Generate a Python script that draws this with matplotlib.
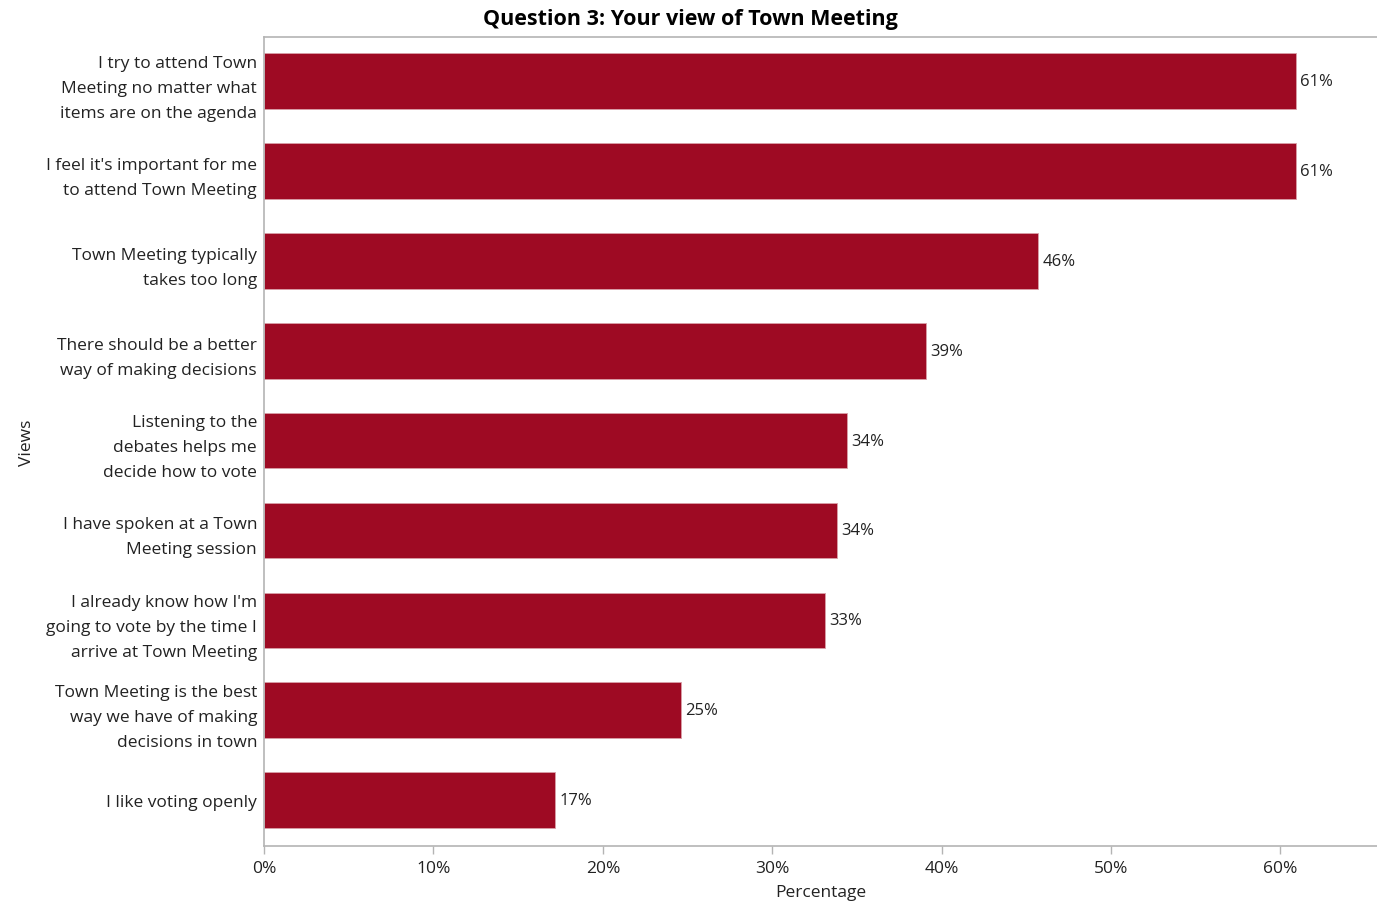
import matplotlib
matplotlib.use("Agg")
import matplotlib.pyplot as plt
from matplotlib.ticker import FuncFormatter

# Survey responses, top to bottom
views = [
    "I try to attend Town\nMeeting no matter what\nitems are on the agenda",
    "I feel it's important for me\nto attend Town Meeting",
    "Town Meeting typically\ntakes too long",
    "There should be a better\nway of making decisions",
    "Listening to the\ndebates helps me\ndecide how to vote",
    "I have spoken at a Town\nMeeting session",
    "I already know how I'm\ngoing to vote by the time I\narrive at Town Meeting",
    "Town Meeting is the best\nway we have of making\ndecisions in town",
    "I like voting openly",
]
percentages = [60.9, 60.9, 45.7, 39.1, 34.4, 33.8, 33.1, 24.6, 17.2]
x_ticks = [0, 10, 20, 30, 40, 50, 60]

BAR_COLOR = "#9e0a23"
GRID_GRAY = "#b4b4b4"
TEXT = "#222222"

plt.rcParams["font.family"] = ["Open Sans", "DejaVu Sans"]

fig = plt.figure(figsize=(13.77, 9.04), dpi=100)
ax = fig.add_axes([264 / 1377, 1 - 847 / 904, 1 - 264 / 1377, (847 - 38) / 904])

y = list(range(len(views)))
ax.barh(y, percentages, height=0.62, color=BAR_COLOR, edgecolor="#d9a0a8", linewidth=0.6)

# value labels just past the bar ends
for yi, v in zip(y, percentages):
    ax.annotate(f"{v:.0f}%", xy=(v, yi), xytext=(3, 0), textcoords="offset points",
                va="center", ha="left", fontsize=12, color=TEXT)

ax.set_ylim(len(views) - 0.49, -0.49)
ax.set_xlim(0, 65.7)
ax.set_yticks(y)
ax.set_yticklabels(views, fontsize=12.5, color=TEXT, linespacing=1.75)
ax.set_xticks(x_ticks)
ax.xaxis.set_major_formatter(FuncFormatter(lambda v, p: f"{v:.0f}%"))
ax.tick_params(axis="x", labelsize=12.5, colors=TEXT, length=6, width=1, color=GRID_GRAY, pad=4)
ax.tick_params(axis="y", length=0, pad=5)

for side in ["top", "left", "bottom"]:
    ax.spines[side].set_color(GRID_GRAY)
    ax.spines[side].set_linewidth(1.2)
ax.spines["right"].set_visible(False)

ax.set_xlabel("Percentage", fontsize=12.5, color=TEXT)
ax.xaxis.set_label_coords(0.5, -(893 - 847) / (847 - 38))
ax.xaxis.label.set_va("center")
ax.set_ylabel("Views", fontsize=12.5, color=TEXT)
ax.yaxis.set_label_coords((27 - 264) / (1377 - 264), 0.5)
ax.yaxis.label.set_va("center")

fig.suptitle("Question 3: Your view of Town Meeting", fontsize=15.5, fontweight="bold",
             color="black", x=690 / 1377, y=1 - 19 / 904, va="center")

fig.savefig("out.png", dpi=100)
